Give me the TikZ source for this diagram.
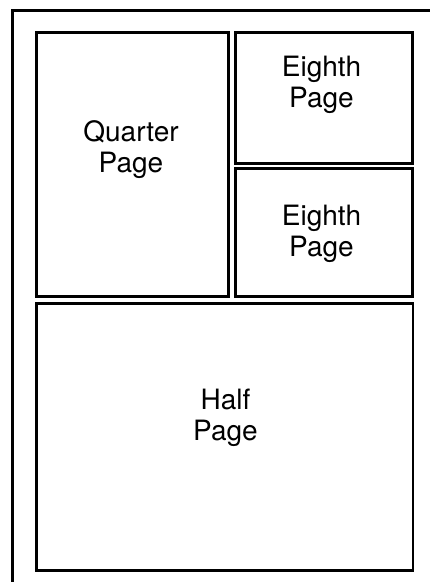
\documentclass[tikz,border=0pt]{standalone}
\usepackage{fontspec}
\setmainfont{TeX Gyre Heros}
\begin{document}
\begin{tikzpicture}[x=1pt,y=-1pt,
  frame/.style={draw=black,line width=2.6pt},
  label/.style={align=center,inner sep=0pt,font=\fontsize{28}{31}\selectfont}]
\useasboundingbox (0,0) rectangle (430,582);
\clip (0,0) rectangle (430,582);
\fill[white] (0,0) rectangle (430,582);
\draw[frame] (12.5,10.5) rectangle (450,600);
\draw[frame] (36.5,32.5) rectangle (228.5,296.5);
\draw[frame] (235.5,32.5) rectangle (412.5,163.5);
\draw[frame] (235.5,168.5) rectangle (412.5,296.5);
\draw[frame] (36.5,303.5) rectangle (413,570.5);
\node[label] (tq) at (131,150) {Quarter\\Page};
\node[label] (te1) at (321.5,85) {Eighth\\Page};
\node[label] (te2) at (321.5,234) {Eighth\\Page};
\node[label] (th) at (225.5,418) {Half\\Page};
\end{tikzpicture}
\end{document}
